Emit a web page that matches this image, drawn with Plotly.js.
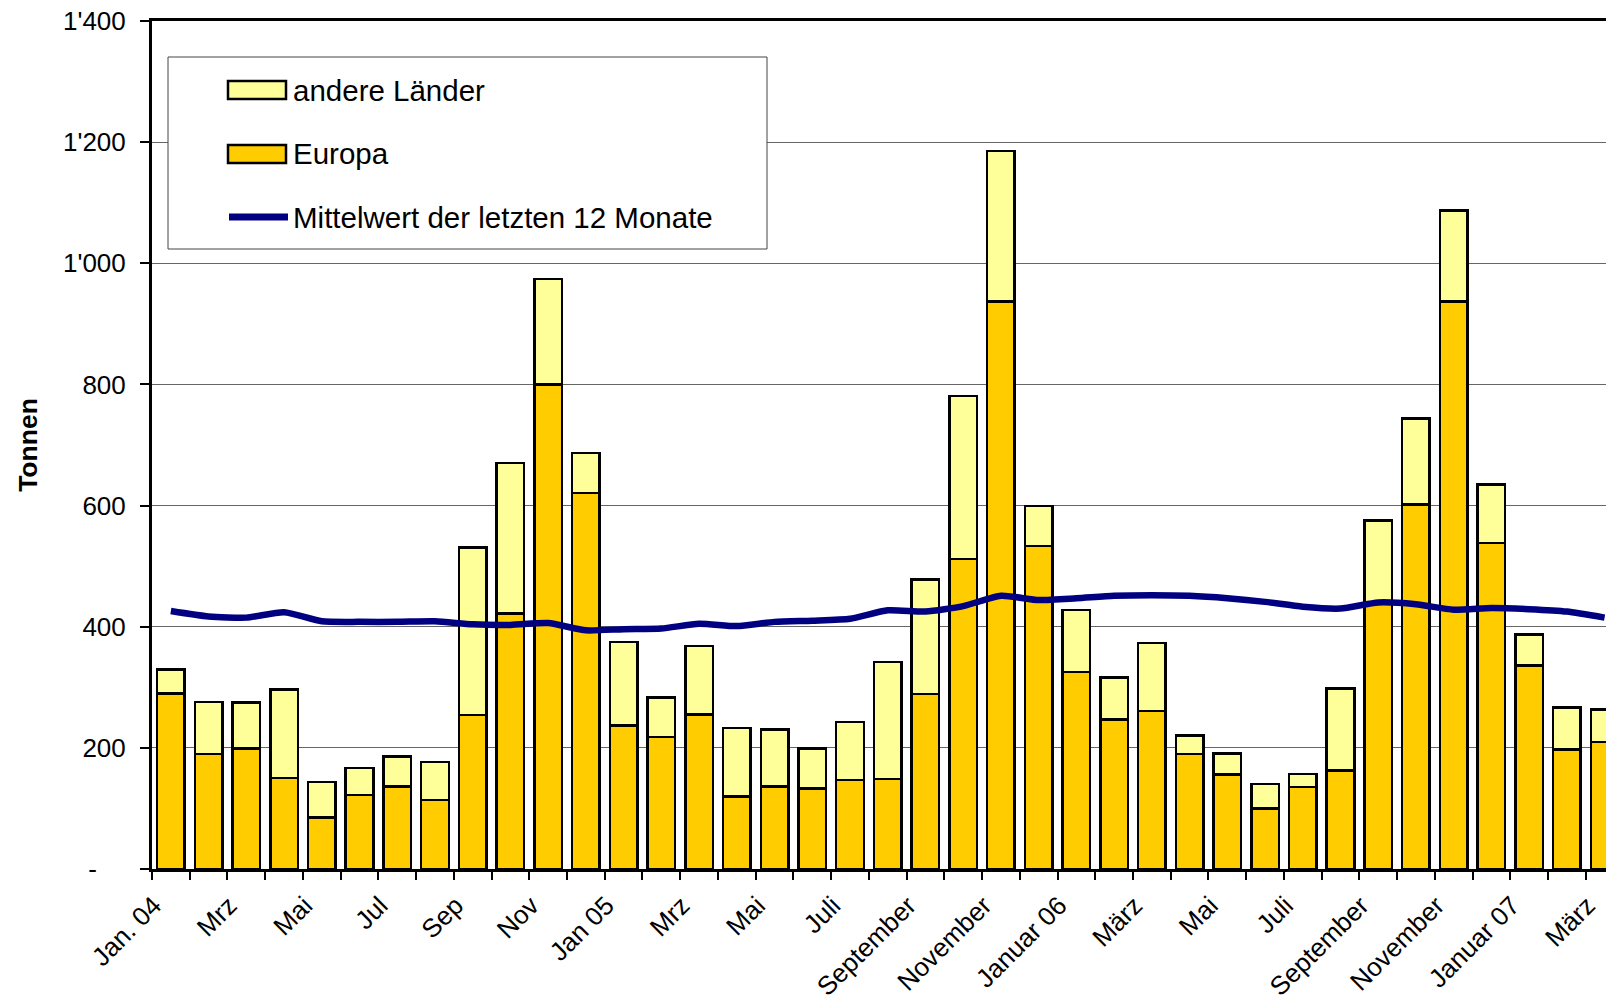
<!DOCTYPE html>
<html>
<head>
<meta charset="utf-8">
<script src="https://cdn.plot.ly/plotly-3.0.1.min.js"></script>
<style>
html,body{margin:0;padding:0;overflow:hidden;background:#fff;}
#chart{width:1606px;height:1005px;}
</style>
</head>
<body>
<div id="chart"></div>
<script>
// ---- data ----
const categories = ["2004-01","2004-02","2004-03","2004-04","2004-05","2004-06","2004-07","2004-08","2004-09","2004-10","2004-11","2004-12",
  "2005-01","2005-02","2005-03","2005-04","2005-05","2005-06","2005-07","2005-08","2005-09","2005-10","2005-11","2005-12",
  "2006-01","2006-02","2006-03","2006-04","2006-05","2006-06","2006-07","2006-08","2006-09","2006-10","2006-11","2006-12",
  "2007-01","2007-02","2007-03"];
const tickLabels = ["Jan. 04","","Mrz","","Mai","","Jul","","Sep","","Nov","",
  "Jan 05","","Mrz","","Mai","","Juli","","September","","November","",
  "Januar 06","","März","","Mai","","Juli","","September","","November","",
  "Januar 07","","März"];
const europa = [290,190,199,150,85,122,136,114,254,422,800,621,
  237,218,255,120,136,133,147,149,289,512,937,533,
  325,247,261,190,156,100,135,163,438,602,937,538,
  336,197,210];
const andereLaender = [39,86,76,146,59,45,50,63,277,248,174,66,
  138,65,113,113,94,66,96,193,189,269,248,66,
  103,69,112,30,35,40,22,135,137,142,150,97,
  51,70,53];
const mittelwert = [426,417,415,424,409,408,408,409,404,403,406,394,
  396,397,405,401,408,410,413,427,425,434,451,444,
  447,451,452,451,447,441,433,430,440,437,428,431,
  429,425,415];
const yTickVals = [0,200,400,600,800,1000,1200,1400];
const yTickText = ["-\u00a0\u00a0\u00a0\u00a0","200","400","600","800","1'000","1'200","1'400"];
const seriesNames = ["andere Länder","Europa","Mittelwert der letzten 12 Monate"];
const colAndere = "#FFFF99", colEuropa = "#FFCC00", colLine = "#000080";

// ---- layout geometry ----
const W = 1606, H = 1005, ML = 152, MR = 0, MT = 21, MB = 136;
const PW = W - ML - MR, PH = H - MT - MB;
const catW = 37.73;
const px = x => (x - ML) / PW;
const py = y => (H - MB - y) / PH;
const FONT = "Liberation Sans, Arial, sans-serif";

const traces = [
  {type:"bar", name:seriesNames[1], x:categories, y:europa,
   marker:{color:colEuropa, line:{color:"#000", width:2.5}}, hoverinfo:"x+y"},
  {type:"bar", name:seriesNames[0], x:categories, y:andereLaender,
   marker:{color:colAndere, line:{color:"#000", width:2.5}}, hoverinfo:"x+y"},
  {type:"scatter", mode:"lines", name:seriesNames[2], x:categories, y:mittelwert,
   line:{color:colLine, width:6.5, shape:"spline", smoothing:0.6}, hoverinfo:"x+y"}
];

const legRows = [90, 154, 217];
const shapes = [
  {type:"rect", xref:"paper", yref:"paper", x0:px(168), x1:px(767), y0:py(57), y1:py(249),
   line:{color:"#444", width:1}, fillcolor:"#fff", layer:"above"},
  {type:"rect", xref:"paper", yref:"paper", x0:px(228), x1:px(286), y0:py(81), y1:py(99),
   line:{color:"#000", width:2.5}, fillcolor:colAndere, layer:"above"},
  {type:"rect", xref:"paper", yref:"paper", x0:px(228), x1:px(286), y0:py(145), y1:py(163),
   line:{color:"#000", width:2.5}, fillcolor:colEuropa, layer:"above"},
  {type:"line", xref:"paper", yref:"paper", x0:px(229), x1:px(288), y0:py(legRows[2]), y1:py(legRows[2]),
   line:{color:colLine, width:7}, layer:"above"}
];
const annotations = seriesNames.map((t,i) => ({
  xref:"paper", yref:"paper", x:px(291), y:py(legRows[i]), xanchor:"left", yanchor:"middle",
  text:t, showarrow:false, font:{family:FONT, size:29.5, color:"#000"}
}));

const layout = {
  width:W, height:H,
  margin:{l:ML, r:MR, t:MT, b:MB, pad:0},
  paper_bgcolor:"#fff", plot_bgcolor:"#fff",
  font:{family:FONT, color:"#000"},
  barmode:"stack", bargap:0.27,
  showlegend:false,
  xaxis:{type:"category", categoryorder:"array", categoryarray:categories,
    tickmode:"array", tickvals:categories, ticktext:tickLabels,
    tickson:"boundaries", ticks:"outside", ticklen:8, tickwidth:2, tickcolor:"#000",
    showline:true, linewidth:3, linecolor:"#000", mirror:true,
    range:[-0.5, -0.5 + PW/catW], tickangle:-45,
    tickfont:{family:FONT, size:26, color:"#000"},
    ticklabelstandoff:8, ticklabelshift:-17,
    showgrid:false, zeroline:false, automargin:false, fixedrange:true},
  yaxis:{range:[0,1400], tickmode:"array", tickvals:yTickVals, ticktext:yTickText,
    ticks:"outside", ticklen:9, tickwidth:2, tickcolor:"#000",
    showline:true, linewidth:3, linecolor:"#000",
    showgrid:true, gridcolor:"#666", gridwidth:1, zeroline:false,
    tickfont:{family:FONT, size:26, color:"#000"},
    ticklabelstandoff:9,
    title:{text:"Tonnen", font:{family:FONT, size:26.5, color:"#000", weight:"bold"}, standoff:18},
    automargin:false, fixedrange:true},
  shapes:shapes,
  annotations:annotations
};

Plotly.newPlot("chart", traces, layout, {displayModeBar:false, staticPlot:true});
</script>
</body>
</html>
